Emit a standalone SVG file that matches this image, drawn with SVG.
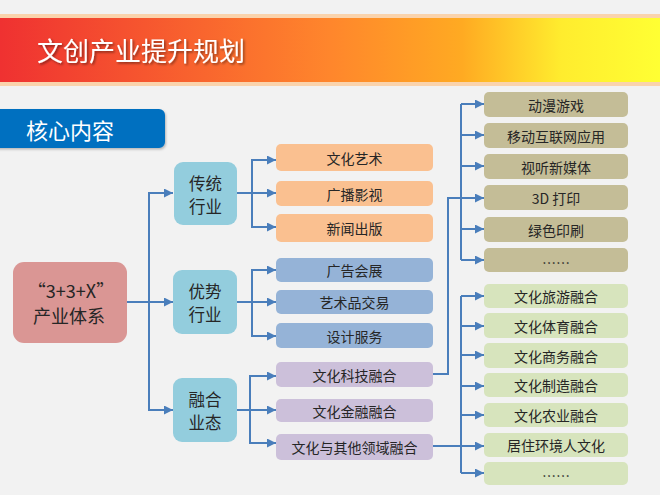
<svg xmlns="http://www.w3.org/2000/svg" width="660" height="495" viewBox="0 0 660 495">
<defs>
<linearGradient id="tg" x1="0" y1="0" x2="1" y2="0">
<stop offset="0" stop-color="#EF3131"/>
<stop offset="0.5" stop-color="#FF862C"/>
<stop offset="0.7" stop-color="#FFAA22"/>
<stop offset="0.85" stop-color="#FFEC2E"/>
<stop offset="1" stop-color="#FFFF33"/>
</linearGradient>
<filter id="sh" x="-10%" y="-10%" width="130%" height="140%">
<feDropShadow dx="1.5" dy="1.5" stdDeviation="1" flood-color="#000" flood-opacity="0.45"/>
</filter>
<filter id="bs" x="-10%" y="-10%" width="130%" height="140%">
<feDropShadow dx="1" dy="1.5" stdDeviation="1.2" flood-color="#000" flood-opacity="0.25"/>
</filter>
<marker id="ar" markerWidth="9" markerHeight="9" refX="9" refY="4.5" orient="auto" markerUnits="userSpaceOnUse">
<path d="M0,0 L9,4.5 L0,9 z" fill="#4A7EBB"/>
</marker>
</defs>
<style>
text{font-family:"Noto Sans CJK SC","Microsoft YaHei",sans-serif;fill:#262626;text-anchor:middle;dominant-baseline:central}
.c{stroke:#4A7EBB;stroke-width:2;fill:none}
.a{marker-end:url(#ar)}
.t{font-size:14px}
.cat{fill:#93CDDD}
.cat2 text{font-size:16.5px}
.or{fill:#FAC090}
.bl{fill:#95B3D7}
.pu{fill:#CCC0DA}
.tn{fill:#C4BD97}
.gr{fill:#D7E4BD}
</style>
<rect width="660" height="495" fill="#F2F2F2"/>
<g id="title">
<rect x="0" y="14" width="660" height="72" fill="#FAD3AC"/>
<rect x="0" y="18" width="660" height="64" fill="url(#tg)"/>
<text x="141" y="49" style="font-size:26px;fill:#FFFFFF" filter="url(#sh)">文创产业提升规划</text>
</g>
<g id="heading">
<rect x="-8" y="109" width="173" height="39" rx="6" fill="#0070C0" filter="url(#bs)"/>
<text x="70" y="129" style="font-size:22px;fill:#FFFFFF">核心内容</text>
</g>
<g id="connectors">
<path class="c a" d="M127,302 L173,302"/>
<path class="c a" d="M149,302 L149,193 L173,193"/>
<path class="c a" d="M149,302 L149,410 L173,410"/>
<path class="c" d="M237,193 L252,193"/>
<path class="c a" d="M252,193 L252,160 L276,160"/>
<path class="c a" d="M252,193 L276,193"/>
<path class="c a" d="M252,193 L252,227 L276,227"/>
<path class="c" d="M237,302 L252,302"/>
<path class="c a" d="M252,302 L252,270 L276,270"/>
<path class="c a" d="M252,302 L276,302"/>
<path class="c a" d="M252,302 L252,336 L276,336"/>
<path class="c" d="M237,410 L250,410"/>
<path class="c a" d="M250,410 L250,376 L276,376"/>
<path class="c a" d="M250,410 L276,410"/>
<path class="c a" d="M250,410 L250,443 L276,443"/>
<path class="c a" d="M433,374 L448,374 L448,198 L484,198"/>
<path class="c" d="M461,104 L461,260"/>
<path class="c a" d="M461,104 L484,104"/>
<path class="c a" d="M461,135 L484,135"/>
<path class="c a" d="M461,166 L484,166"/>
<path class="c a" d="M461,229 L484,229"/>
<path class="c a" d="M461,260 L484,260"/>
<path class="c a" d="M433,446 L484,446"/>
<path class="c" d="M461,296 L461,473"/>
<path class="c a" d="M461,296 L484,296"/>
<path class="c a" d="M461,326 L484,326"/>
<path class="c a" d="M461,355 L484,355"/>
<path class="c a" d="M461,386 L484,386"/>
<path class="c a" d="M461,415 L484,415"/>
<path class="c a" d="M461,473 L484,473"/>
</g>
<g id="root">
<rect x="13" y="262" width="114" height="81" rx="11" fill="#DA9694"/>
<text style="font-size:18px"><tspan x="71" y="290">“3+3+X”</tspan><tspan x="69" y="315">产业体系</tspan></text>
</g>
<g id="cat-traditional" class="cat2">
<rect class="cat" x="174" y="162" width="63" height="63" rx="9"/>
<text><tspan x="205.5" y="183">传统</tspan><tspan x="205.5" y="206">行业</tspan></text>
</g>
<g id="cat-advantage" class="cat2">
<rect class="cat" x="173" y="270" width="64" height="64" rx="9"/>
<text><tspan x="205" y="291">优势</tspan><tspan x="205" y="314">行业</tspan></text>
</g>
<g id="cat-fusion" class="cat2">
<rect class="cat" x="173" y="378" width="64" height="64" rx="9"/>
<text><tspan x="205" y="398.5">融合</tspan><tspan x="205" y="421.5">业态</tspan></text>
</g>
<g id="n-wenhuayishu"><rect class="or" x="276" y="144" width="157" height="27" rx="5"/><text class="t" x="354.5" y="157.5">文化艺术</text></g>
<g id="n-guangbo"><rect class="or" x="276" y="181" width="157" height="25" rx="5"/><text class="t" x="354.5" y="193.5">广播影视</text></g>
<g id="n-xinwen"><rect class="or" x="276" y="214" width="157" height="28" rx="5"/><text class="t" x="354.5" y="228">新闻出版</text></g>
<g id="n-guanggao"><rect class="bl" x="276" y="258" width="157" height="24" rx="5"/><text class="t" x="354.5" y="270">广告会展</text></g>
<g id="n-yishupin"><rect class="bl" x="276" y="290" width="157" height="24" rx="5"/><text class="t" x="354.5" y="302">艺术品交易</text></g>
<g id="n-sheji"><rect class="bl" x="276" y="323" width="157" height="25" rx="5"/><text class="t" x="354.5" y="335.5">设计服务</text></g>
<g id="n-keji"><rect class="pu" x="276" y="362" width="157" height="25" rx="5"/><text class="t" x="354.5" y="374.5">文化科技融合</text></g>
<g id="n-jinrong"><rect class="pu" x="276" y="399" width="157" height="23" rx="5"/><text class="t" x="354.5" y="410.5">文化金融融合</text></g>
<g id="n-qita"><rect class="pu" x="276" y="434" width="157" height="26" rx="5"/><text class="t" x="354.5" y="447">文化与其他领域融合</text></g>
<g id="n-dongman"><rect class="tn" x="484" y="92" width="144" height="25" rx="5"/><text class="t" x="556" y="104.5">动漫游戏</text></g>
<g id="n-yidong"><rect class="tn" x="484" y="123" width="144" height="25" rx="5"/><text class="t" x="556" y="135.5">移动互联网应用</text></g>
<g id="n-shiting"><rect class="tn" x="484" y="154" width="144" height="25" rx="5"/><text class="t" x="556" y="166.5">视听新媒体</text></g>
<g id="n-3d"><rect class="tn" x="484" y="185" width="144" height="25" rx="5"/><text class="t" x="556" y="197.5">3D 打印</text></g>
<g id="n-lvse"><rect class="tn" x="484" y="217" width="144" height="25" rx="5"/><text class="t" x="556" y="229.5">绿色印刷</text></g>
<g id="n-more1"><rect class="tn" x="484" y="248" width="144" height="24" rx="5"/><text class="t" x="556" y="262">……</text></g>
<g id="n-lvyou"><rect class="gr" x="484" y="284" width="144" height="24" rx="5"/><text class="t" x="556" y="296">文化旅游融合</text></g>
<g id="n-tiyu"><rect class="gr" x="484" y="313" width="144" height="25" rx="5"/><text class="t" x="556" y="325.5">文化体育融合</text></g>
<g id="n-shangwu"><rect class="gr" x="484" y="343" width="144" height="25" rx="5"/><text class="t" x="556" y="355.5">文化商务融合</text></g>
<g id="n-zhizao"><rect class="gr" x="484" y="373" width="144" height="24" rx="5"/><text class="t" x="556" y="385">文化制造融合</text></g>
<g id="n-nongye"><rect class="gr" x="484" y="403" width="144" height="24" rx="5"/><text class="t" x="556" y="415">文化农业融合</text></g>
<g id="n-juzhu"><rect class="gr" x="484" y="433" width="144" height="24" rx="5"/><text class="t" x="556" y="445">居住环境人文化</text></g>
<g id="n-more2"><rect class="gr" x="484" y="462" width="144" height="23" rx="5"/><text class="t" x="556" y="475">……</text></g>
</svg>
